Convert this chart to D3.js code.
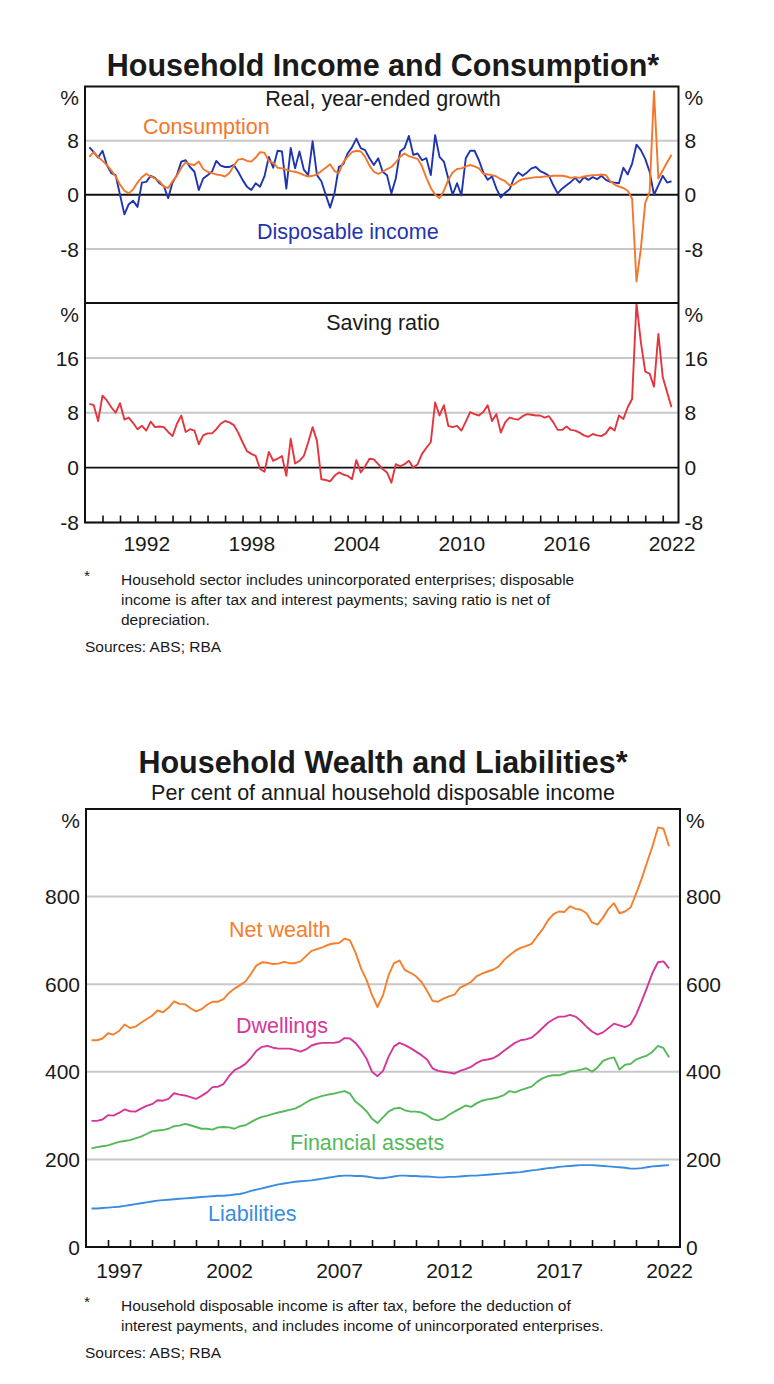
<!DOCTYPE html>
<html>
<head>
<meta charset="utf-8">
<script src="https://cdn.jsdelivr.net/npm/d3@7"></script>
<style>
  body { margin: 0; background: #fff; }
  svg text { font-family: Arial, "Liberation Sans", sans-serif; fill: #1a1a1a; }
</style>
</head>
<body>
<svg width="774" height="1384"></svg>
<script>
// quarterly data, plotted at quarter end (start = first quarter)
const incomeStart = 1989.25;
const consumption = [
  5.6, 6.3, 5.6, 5.0,   4.4, 3.6, 2.7, 1.5,   0.6, 0.2, 0.8, 1.8,   2.6, 3.1, 2.7, 2.4,
  2.0, 1.2, 1.0, 2.0,   2.8, 4.0, 4.8, 4.5,   4.4, 4.9, 3.8, 3.4,   3.2, 3.0, 2.9, 2.7,
  3.2, 4.3, 5.2, 5.3,   5.0, 4.9, 5.5, 6.3,   6.2, 5.0, 4.7, 4.0,   3.9, 3.7, 3.5, 3.4,
  3.2, 2.9, 2.7, 2.8,   3.0, 3.5, 4.0, 4.5,   3.5, 3.2, 4.8, 5.6,   6.3, 6.5, 6.4, 5.6,
  4.3, 3.4, 3.1, 3.4,   3.8, 4.1, 4.8, 5.6,   6.1, 5.7, 5.5, 5.3,   4.2, 2.5, 1.0, 0.0,
  -0.5, 0.6, 2.2, 3.3,  3.8, 3.9, 4.2, 4.4,   4.2, 3.9, 3.1, 3.0,   2.9, 2.7, 2.3, 2.0,
  1.4, 1.5, 2.0, 2.3,   2.4, 2.5, 2.6, 2.6,   2.7, 2.7, 2.8, 2.8,   2.8, 2.7, 2.5, 2.6,
  2.5, 2.7, 2.8, 2.9,   2.9, 3.0, 2.9, 2.0,   1.5, 1.2, 1.0, 0.6,   -0.6, -12.8, -8.0, -1.2,
  0.4, 15.3, 2.4, 3.6,  4.8, 5.9
];
const disposableIncome = [
  7.0, 6.3, 5.5, 6.5,   4.4, 3.2, 2.9, 0.0,   -2.9, -1.4, -0.9, -1.8, 1.8, 1.9, 2.8, 2.5,
  1.7, 1.3, -0.5, 1.8,  2.9, 4.9, 5.1, 4.1,   3.4, 0.7, 2.4, 2.9,   3.4, 5.0, 4.3, 4.1,
  4.1, 4.4, 3.4, 2.2,   1.2, 0.7, 1.7, 1.2,   2.7, 5.6, 4.0, 6.5,   6.4, 0.9, 6.9, 3.9,
  6.4, 3.7, 2.9, 7.9,   2.9, 2.0, 0.0, -1.9,  0.2, 4.1, 4.5, 6.1,   7.0, 8.3, 6.9, 6.6,
  5.4, 4.4, 5.4, 3.4,   2.9, 0.2, 2.4, 6.4,   6.9, 8.7, 5.9, 6.1,   5.1, 5.4, 2.9, 8.8,
  5.6, 4.9, 2.4, 0.0,   1.7, -0.1, 5.4, 6.5,  6.5, 5.1, 3.3, 2.2,   2.7, 0.9, -0.4, 0.3,
  0.8, 2.4, 3.3, 2.8,   3.3, 3.9, 4.1, 3.5,   3.2, 2.8, 1.4, 0.2,   0.9, 1.4, 1.9, 2.5,
  1.8, 2.6, 2.2, 2.6,   2.3, 2.8, 2.2, 1.9,   1.8, 1.7, 4.0, 3.0,   4.6, 7.4, 6.6, 5.3,
  3.4, 0.0, 1.4, 2.8,   1.8, 2.0
];
const savingRatio = [
  9.3, 9.1, 6.8, 10.5,  9.8, 8.8, 8.0, 9.4,   7.0, 7.3, 6.5, 5.6,   6.1, 5.4, 6.7, 5.9,
  6.0, 5.9, 5.2, 4.6,   6.4, 7.6, 5.2, 5.6,   5.4, 3.4, 4.7, 5.0,   5.0, 5.6, 6.4, 6.8,
  6.6, 6.2, 5.1, 3.7,   2.4, 2.0, 1.7, -0.2,  -0.6, 2.3, 1.0, 1.3,  1.7, -1.2, 4.2, 0.6,
  1.0, 1.7, 3.7, 5.9,   3.9, -1.7, -1.8, -2.0, -1.2, -0.7, -1.0, -1.2, -1.7, 1.1, -0.7, 0.2,
  1.3, 1.2, 0.5, -0.2,  -0.7, -2.2, 0.5, 0.2, 0.5, 1.0, 0.0, 0.5,   2.0, 2.9, 3.7, 9.5,
  7.6, 9.1, 6.1, 5.9,   6.1, 5.4, 6.7, 8.1,   7.8, 7.6, 8.1, 9.1,   6.8, 7.8, 5.1, 6.6,
  7.3, 7.1, 7.0, 7.5,   7.8, 7.7, 7.6, 7.6,   7.3, 7.5, 6.6, 5.5,   5.5, 6.0, 5.5, 5.4,
  5.1, 4.7, 4.5, 4.9,   4.7, 4.6, 5.0, 5.9,   5.4, 7.6, 7.1, 8.8,   10.0, 24.0, 18.3, 14.0,
  13.7, 11.8, 19.5, 13.2, 11.0, 8.8
];

const wealthStart = 1996.25;
const netWealth = [
  472, 472, 476,
  488, 485, 493, 508,  500, 503, 512, 520,  528, 540, 536, 546,  561, 555, 554, 545,
  538, 543, 553, 560,  560, 566, 580, 590,  598, 606, 624, 643,  650, 649, 646, 647,
  651, 648, 648, 652,  664, 676, 680, 684,  690, 693, 694, 704,  700, 672, 636, 610,
  575, 548, 575, 620,  648, 654, 632, 626,  618, 605, 585, 562,  560, 567, 572, 576,
  592, 598, 605, 618,  624, 629, 633, 640,  655, 666, 676, 683,  687, 692, 709, 725,
  746, 760, 766, 765,  778, 772, 770, 762,  741, 736, 752, 772,  785, 762, 766, 775,
  806, 840, 878, 915,  958, 955, 915
];
const dwellings = [
  288, 288, 291,
  301, 300, 306, 314,  310, 309, 316, 322,  326, 335, 334, 338,  351, 348, 346, 342,
  338, 345, 353, 365,  366, 372, 390, 404,  410, 418, 432, 448,  457, 459, 455, 453,
  453, 453, 450, 446,  451, 460, 464, 466,  466, 466, 468, 477,  476, 466, 450, 430,
  400, 390, 402, 434,  458, 466, 461, 454,  446, 438, 428, 408,  402, 400, 398, 396,
  402, 406, 411, 420,  426, 428, 431, 438,  448, 457, 466, 472,  474, 478, 488, 500,
  512, 520, 526, 526,  530, 526, 516, 503,  492, 485, 490, 500,  510, 506, 502, 508,
  530, 560, 592, 626,  650, 652, 636
];
const financialAssets = [
  225, 228, 230,
  232, 236, 240, 242,  244, 248, 252, 258,  264, 266, 267, 270,  276, 277, 281, 278,
  274, 270, 270, 268,  273, 274, 273, 270,  276, 278, 285, 292,  297, 300, 304, 307,
  310, 313, 316, 322,  330, 337, 341, 345,  348, 350, 353, 356,  350, 332, 322, 310,
  293, 283, 296, 309,  316, 318, 312, 309,  309, 307, 301, 292,  289, 293, 302, 309,
  316, 323, 320, 328,  334, 337, 339, 342,  347, 356, 353, 358,  362, 366, 377, 385,
  390, 392, 392, 396,  401, 402, 405, 408,  400, 410, 425, 430,  433, 405, 416, 418,
  428, 433, 437, 446,  459, 454, 433
];
const liabilities = [
  88, 88, 89,
  90, 91, 92, 94,      96, 98, 100, 102,    104, 106, 107, 108,  109, 110, 111, 112,
  113, 114, 115, 116,  117, 117, 118, 120,  121, 124, 128, 131,  134, 137, 140, 143,
  145, 147, 149, 150,  151, 152, 154, 156,  158, 160, 162, 163,  163, 162, 162, 161,
  159, 157, 157, 159,  161, 163, 163, 162,  162, 161, 161, 160,  159, 159, 160, 160,
  161, 162, 163, 163,  164, 165, 166, 167,  168, 169, 170, 171,  173, 175, 176, 178,
  180, 181, 183, 184,  185, 186, 187, 187,  187, 186, 185, 184,  183, 182, 181, 179,
  179, 180, 182, 184,  185, 186, 187
];

const growthTicks = [-8, 0, 8];
const savingTicks = [-8, 0, 8, 16];
const wealthTicks = [0, 200, 400, 600, 800];
const incomeYearLabels = [1992, 1998, 2004, 2010, 2016, 2022];
const wealthYearLabels = [1997, 2002, 2007, 2012, 2017, 2022];

const svg = d3.select('svg');

function quarters (start, values) {
  return values.map((v, i) => ({ t: start + i * 0.25, v }));
}

function gridlines (g, x, y, values) {
  g.append('g').selectAll('line').data(values).join('line')
    .attr('x1', x.range()[0]).attr('x2', x.range()[1])
    .attr('y1', d => y(d)).attr('y2', d => y(d))
    .attr('stroke', d => d === 0 ? '#111' : '#c8c8c8')
    .attr('stroke-width', d => d === 0 ? 1.8 : 2);
}

// tick labels on both sides, the top value is shown as '%'
function valueLabels (g, x, y, values, topValue) {
  const ticks = values.concat([topValue]);
  const fmt = d => d === topValue ? '%' : String(d);
  [[d3.axisLeft(y), x.range()[0]], [d3.axisRight(y), x.range()[1]]].forEach(([axis, pos]) => {
    const a = g.append('g')
      .attr('transform', `translate(${pos},0)`)
      .call(axis.tickValues(ticks).tickSize(0).tickPadding(6).tickFormat(fmt));
    a.select('.domain').remove();
    a.selectAll('text')
      .attr('font-size', 21)
      .attr('dy', d => d === topValue ? '0.88em' : '0.34em')
      .style('font-family', 'Arial, "Liberation Sans", sans-serif');
  });
}

function yearAxis (g, x, y0, tickYears, labelYears, pad) {
  const t = g.append('g')
    .attr('transform', `translate(0,${y0})`)
    .call(d3.axisBottom(x).tickValues(tickYears).tickSize(-7).tickFormat(''));
  t.select('.domain').remove();
  t.selectAll('line').attr('stroke', '#111').attr('stroke-width', 1.6);
  const l = g.append('g')
    .attr('transform', `translate(0,${y0})`)
    .call(d3.axisBottom(x).tickValues(labelYears.map(d => d + 0.5)).tickSize(0)
      .tickPadding(pad).tickFormat(d => Math.floor(d)));
  l.select('.domain').remove();
  l.selectAll('text').attr('font-size', 21)
    .style('font-family', 'Arial, "Liberation Sans", sans-serif');
}

function drawLine (g, x, y, data, color) {
  g.append('path')
    .datum(data)
    .attr('fill', 'none')
    .attr('stroke', color)
    .attr('stroke-width', 1.9)
    .attr('stroke-linejoin', 'round')
    .attr('d', d3.line().x(d => x(d.t)).y(d => y(d.v)));
}

function label (g, x, y, text, opts) {
  const t = g.append('text').attr('x', x).attr('y', y).text(text)
    .attr('font-size', opts.size || 21.5);
  if (opts.color) t.style('fill', opts.color);
  if (opts.anchor) t.attr('text-anchor', opts.anchor);
  if (opts.bold) t.attr('font-weight', 'bold');
  return t;
}

function footnote (g, y, lines, sourceY) {
  label(g, 84, y - 4, '*', { size: 15.5 });
  lines.forEach((s, i) => label(g, 121, y + 20 * i, s, { size: 15.5 }));
  label(g, 85, sourceY, 'Sources: ABS; RBA', { size: 15.5 });
}

// ---- Household Income and Consumption ----
const incomeChart = svg.append('g');
const xIncome = d3.scaleLinear().domain([1989, 2022.9]).range([85, 678.5]);
const yGrowth = d3.scaleLinear().domain([-16, 16]).range([303, 86.5]);
const ySaving = d3.scaleLinear().domain([-8, 24]).range([522.5, 303]);

label(incomeChart, 383, 76, 'Household Income and Consumption*', { size: 30.5, anchor: 'middle', bold: true });

gridlines(incomeChart, xIncome, yGrowth, growthTicks);
gridlines(incomeChart, xIncome, ySaving, savingTicks);
valueLabels(incomeChart, xIncome, yGrowth, growthTicks, 16);
valueLabels(incomeChart, xIncome, ySaving, savingTicks, 24);

drawLine(incomeChart, xIncome, yGrowth, quarters(incomeStart, disposableIncome), '#1f35b0');
drawLine(incomeChart, xIncome, yGrowth, quarters(incomeStart, consumption), '#f4762a');
drawLine(incomeChart, xIncome, ySaving, quarters(incomeStart, savingRatio), '#e3353d');

incomeChart.append('rect')
  .attr('x', 85).attr('y', 86.5).attr('width', 593.5).attr('height', 436)
  .attr('fill', 'none').attr('stroke', '#111').attr('stroke-width', 2);
incomeChart.append('line')
  .attr('x1', 85).attr('x2', 678.5).attr('y1', 303).attr('y2', 303)
  .attr('stroke', '#111').attr('stroke-width', 2);

yearAxis(incomeChart, xIncome, 522.5, d3.range(1990, 2023), incomeYearLabels, 14);

label(incomeChart, 383, 106, 'Real, year-ended growth', { anchor: 'middle' });
label(incomeChart, 143, 134, 'Consumption', { color: '#f4762a' });
label(incomeChart, 257, 239, 'Disposable income', { color: '#1f35b0' });
label(incomeChart, 383, 330, 'Saving ratio', { anchor: 'middle' });

footnote(incomeChart, 585, [
  'Household sector includes unincorporated enterprises; disposable',
  'income is after tax and interest payments; saving ratio is net of',
  'depreciation.'
], 652);

// ---- Household Wealth and Liabilities ----
const wealthChart = svg.append('g');
const xWealth = d3.scaleLinear().domain([1996, 2023]).range([86, 680]);
const yWealth = d3.scaleLinear().domain([0, 1000]).range([1247, 809]);

label(wealthChart, 383, 773, 'Household Wealth and Liabilities*', { size: 30.5, anchor: 'middle', bold: true });
label(wealthChart, 383, 800, 'Per cent of annual household disposable income', { anchor: 'middle' });

gridlines(wealthChart, xWealth, yWealth, wealthTicks.filter(d => d > 0));
valueLabels(wealthChart, xWealth, yWealth, wealthTicks, 1000);

drawLine(wealthChart, xWealth, yWealth, quarters(wealthStart, liabilities), '#3a8ce0');
drawLine(wealthChart, xWealth, yWealth, quarters(wealthStart, financialAssets), '#55b95a');
drawLine(wealthChart, xWealth, yWealth, quarters(wealthStart, dwellings), '#d4379a');
drawLine(wealthChart, xWealth, yWealth, quarters(wealthStart, netWealth), '#f57f2c');

wealthChart.append('rect')
  .attr('x', 86).attr('y', 809).attr('width', 594).attr('height', 438)
  .attr('fill', 'none').attr('stroke', '#111').attr('stroke-width', 2);

yearAxis(wealthChart, xWealth, 1247, d3.range(1997, 2023), wealthYearLabels, 16);

label(wealthChart, 229, 937, 'Net wealth', { color: '#f57f2c' });
label(wealthChart, 236, 1033, 'Dwellings', { color: '#d4379a' });
label(wealthChart, 290, 1150, 'Financial assets', { color: '#55b95a' });
label(wealthChart, 208, 1221, 'Liabilities', { color: '#3a8ce0' });

footnote(wealthChart, 1311, [
  'Household disposable income is after tax, before the deduction of',
  'interest payments, and includes income of unincorporated enterprises.'
], 1358);
</script>
</body>
</html>
